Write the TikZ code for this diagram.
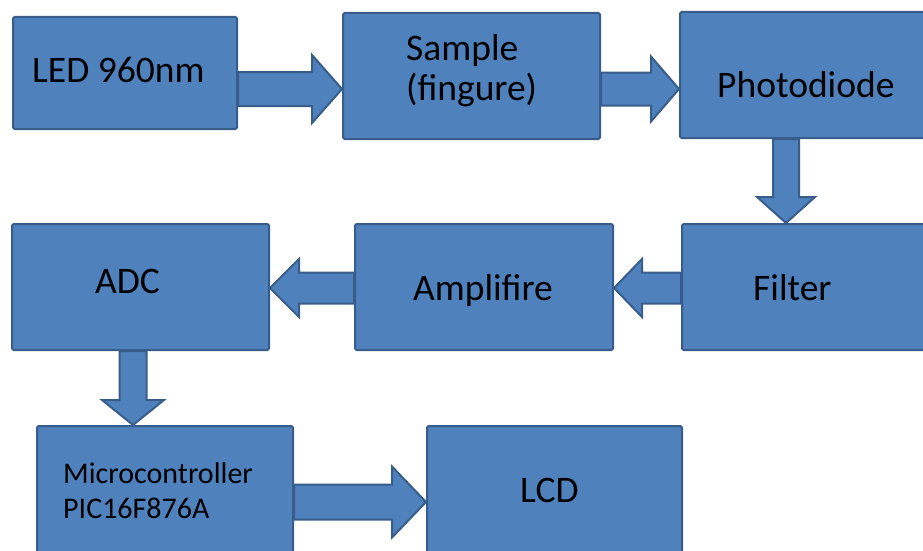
\documentclass[tikz,border=0pt]{standalone}
\usepackage{fontspec}
\setmainfont{Carlito}
\usetikzlibrary{calc}

\definecolor{boxblue}{HTML}{4F81BD}
\definecolor{boxline}{HTML}{385D8A}

\tikzset{
	blok/.style={rectangle, fill=boxblue, draw=boxline, line width=2, rounded corners=1.5, inner sep=0},
	blokarrow/.style={fill=boxblue, draw=boxline, line width=2, line join=miter},
	lbl/.style={anchor=base west, inner sep=0, font=\fontsize{37.5}{40}\selectfont},
	smalllbl/.style={anchor=base west, inner sep=0, font=\fontsize{30}{35}\selectfont}
}

% block arrows: from, tip, half shaft, half head, head length
\newcommand{\harrow}[5]{%
	\path[blokarrow] let \p1=(#1), \p2=(#2), \p3=(\x1,\y2), \p4=($(\p2)!#5pt!(\p3)$) in
		(\x1,\y2+#3) -- (\x4,\y2+#3) -- (\x4,\y2+#4) -- (\p2) -- (\x4,\y2-#4) -- (\x4,\y2-#3) -- (\x1,\y2-#3) -- cycle;}
\newcommand{\varrow}[5]{%
	\path[blokarrow] let \p1=(#1), \p2=(#2), \p3=(\x2,\y1), \p4=($(\p2)!#5pt!(\p3)$) in
		(\x2+#3,\y1) -- (\x2+#3,\y4) -- (\x2+#4,\y4) -- (\p2) -- (\x2-#4,\y4) -- (\x2-#3,\y4) -- (\x2-#3,\y1) -- cycle;}

\begin{document}
\begin{tikzpicture}[x=1pt, y=-1pt]
\useasboundingbox (0, 0) rectangle (923, 551);

\node[blok, minimum width=224, minimum height=112] (led) at (125, 73) {};
\node[blok, minimum width=257, minimum height=126] (sample) at (471.5, 76) {};
\node[blok, minimum width=262, minimum height=126] (photo) at (811, 75) {};
\node[blok, minimum width=260, minimum height=126] (filter) at (812, 287) {};
\node[blok, minimum width=258, minimum height=126] (amp) at (484, 287) {};
\node[blok, minimum width=257, minimum height=126] (adc) at (140.5, 287) {};
\node[blok, minimum width=256, minimum height=136] (micro) at (165, 494) {};
\node[blok, minimum width=255, minimum height=136] (lcd) at (554.5, 494) {};

\harrow{led.east}{sample.west |- 0,89}{17}{34}{30}
\harrow{sample.east}{photo.west |- 0,89}{16.5}{32.5}{28}
\varrow{photo.south}{filter.north -| 786,0}{13}{29}{26}
\harrow{filter.west}{amp.east |- 0,288}{15.5}{29}{28}
\harrow{amp.west}{adc.east |- 0,288}{15.5}{29}{29}
\varrow{adc.south}{micro.north -| 133,0}{13.5}{31}{25}
\harrow{micro.east}{lcd.west |- 0,502}{17.5}{35.5}{34}

\node[lbl] (ledtxt) at (32, 82) {LED 960nm};
\node[lbl, align=left] (sampletxt) at (406, 100) {Sample\\(fingure)};
\node[lbl] (phototxt) at (717, 97) {Photodiode};
\node[lbl] (filtertxt) at (753, 300) {Filter};
\node[lbl] (amptxt) at (413, 300) {Amplifire};
\node[lbl] (adctxt) at (95, 293) {ADC};
\node[smalllbl, align=left] (microtxt) at (63, 518) {Microcontroller\\PIC16F876A};
\node[lbl] (lcdtxt) at (520, 502) {LCD};
\end{tikzpicture}
\end{document}
